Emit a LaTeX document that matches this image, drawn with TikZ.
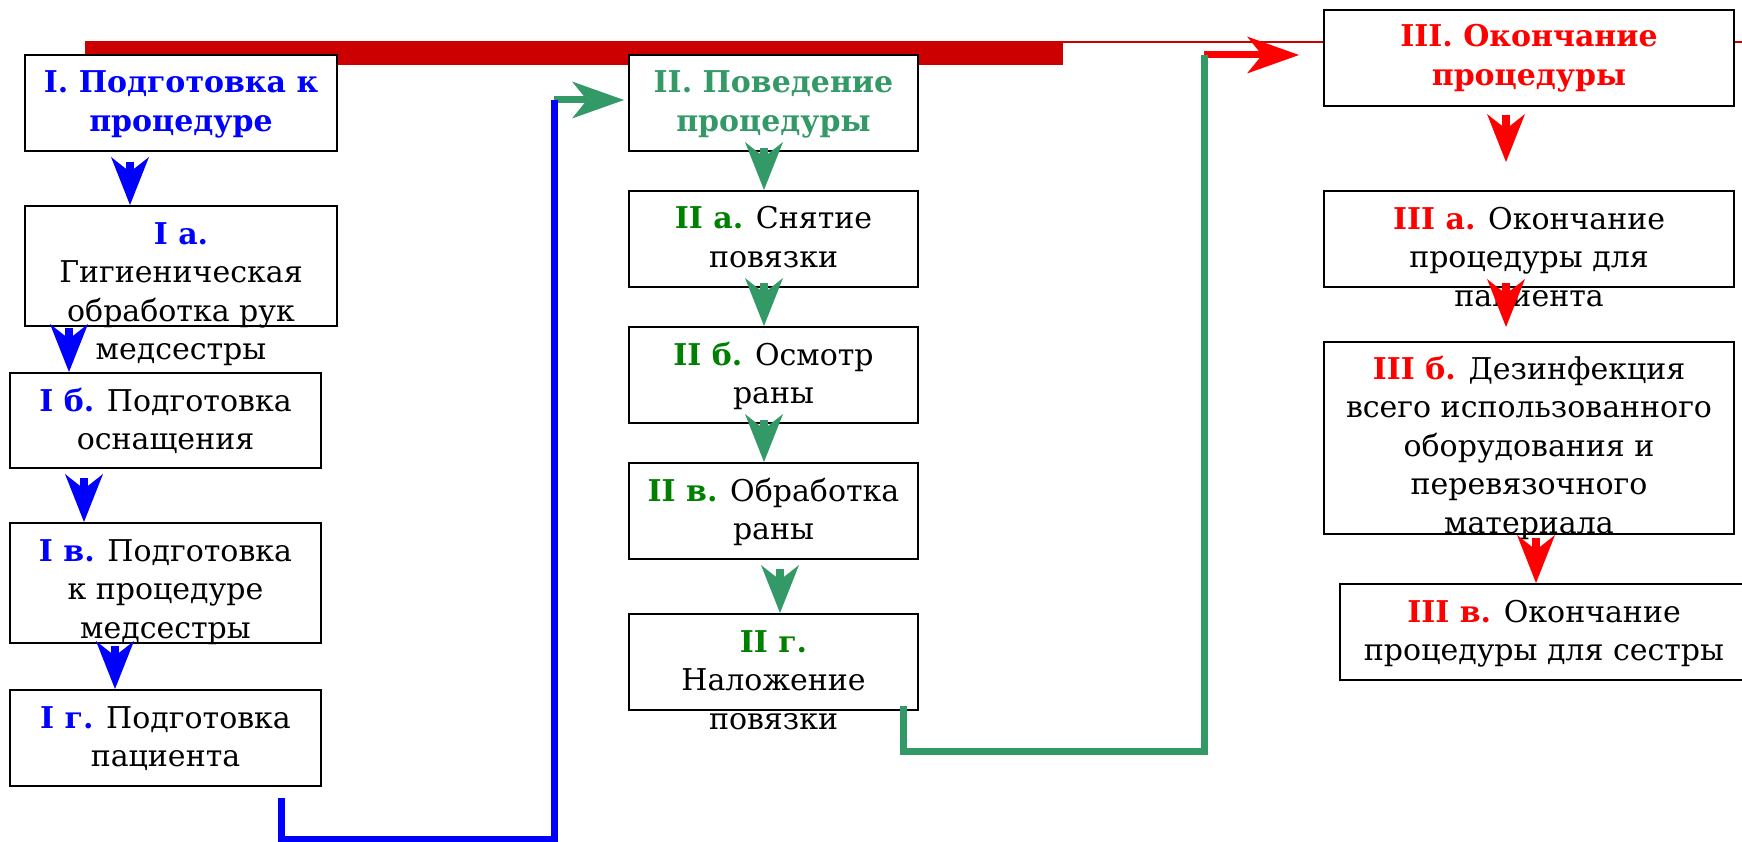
\documentclass[tikz,border=0pt]{standalone}
\usepackage{fontspec}
\setmainfont{DejaVu Serif}
\usetikzlibrary{arrows.meta,calc}
\definecolor{myblue}{RGB}{0,0,255}
\definecolor{sgreen}{RGB}{51,153,102}
\definecolor{dgreen}{RGB}{0,128,0}
\definecolor{myred}{RGB}{255,0,0}
\definecolor{darkred}{RGB}{204,0,0}
\begin{document}
\begin{tikzpicture}[x=1pt,y=-1pt,
  box/.style={draw=black, line width=2pt, fill=white, inner sep=0pt, rectangle},
  txt/.style={align=center, anchor=base, inner sep=0pt, font=\fontsize{30}{38.5}\selectfont},
  btxt/.style={txt, font=\fontsize{30}{38.5}\selectfont\bfseries},
  varr/.style={line width=8pt, -{Stealth[length=48pt,width=38pt,inset=15pt,line width=0pt]}},
  harr/.style={line width=7pt, -{Stealth[length=52pt,width=37pt,inset=15pt,line width=0pt]}},
  conn/.style={line width=7pt, line join=miter}
]
\useasboundingbox (0,0) rectangle (1742,842);

% decorative red bar and thin line
\fill[darkred] (85,41) rectangle (1063,65);
\draw[darkred, line width=1.6pt] (1063,42) -- (1742,42);

% column I boxes
\node[box, minimum width=312pt, minimum height=96pt] (I) at (181,103) {};
\node[box, minimum width=312pt, minimum height=120pt] (Ia) at (181,266) {};
\node[box, minimum width=311pt, minimum height=95pt] (Ib) at (165.5,420.5) {};
\node[box, minimum width=311pt, minimum height=120pt] (Iv) at (165.5,583) {};
\node[box, minimum width=311pt, minimum height=96pt] (Ig) at (165.5,738) {};
% column II boxes
\node[box, minimum width=289pt, minimum height=96pt] (II) at (773.5,103) {};
\node[box, minimum width=289pt, minimum height=96pt] (IIa) at (773.5,239) {};
\node[box, minimum width=289pt, minimum height=96pt] (IIb) at (773.5,375) {};
\node[box, minimum width=289pt, minimum height=96pt] (IIv) at (773.5,511) {};
\node[box, minimum width=289pt, minimum height=96pt] (IIg) at (773.5,662) {};
% column III boxes
\node[box, minimum width=410pt, minimum height=96pt] (III) at (1529,58) {};
\node[box, minimum width=410pt, minimum height=96pt] (IIIa) at (1529,239) {};
\node[box, minimum width=410pt, minimum height=192pt] (IIIb) at (1529,438) {};
\node[box, minimum width=408pt, minimum height=96pt] (IIIv) at (1544,632) {};

% texts (anchor = baseline of last line)
\node[btxt, text=myblue] (It) at ($(I.north)+(0,77.5)$) {I. Подготовка к\\процедуре};
\node[txt] (Iat) at ($(Ia.north)+(0,154.5)$) {\textcolor{myblue}{\bfseries I а.}\\Гигиеническая\\обработка рук\\медсестры};
\node[txt] (Ibt) at ($(Ib.north)+(0,77.5)$) {\textcolor{myblue}{\bfseries I б.} Подготовка\\оснащения};
\node[txt] (Ivt) at ($(Iv.north)+(0,116)$) {\textcolor{myblue}{\bfseries I в.} Подготовка\\к процедуре\\медсестры};
\node[txt] (Igt) at ($(Ig.north)+(0,77.5)$) {\textcolor{myblue}{\bfseries I г.} Подготовка\\пациента};

\node[btxt, text=sgreen] (IIt) at ($(II.north)+(0,77.5)$) {II. Поведение\\процедуры};
\node[txt] (IIat) at ($(IIa.north)+(0,77.5)$) {\textcolor{dgreen}{\bfseries II а.} Снятие\\повязки};
\node[txt] (IIbt) at ($(IIb.north)+(0,77.5)$) {\textcolor{dgreen}{\bfseries II б.} Осмотр\\раны};
\node[txt] (IIvt) at ($(IIv.north)+(0,77.5)$) {\textcolor{dgreen}{\bfseries II в.} Обработка\\раны};
\node[txt] (IIgt) at ($(IIg.north)+(0,116)$) {\textcolor{dgreen}{\bfseries II г.}\\Наложение\\повязки};

\node[btxt, text=myred] (IIIt) at ($(III.north)+(0,76.5)$) {III. Окончание\\процедуры};
\node[txt] (IIIat) at ($(IIIa.north)+(0,116)$) {\textcolor{myred}{\bfseries III а.} Окончание\\процедуры для\\пациента};
\node[txt] (IIIbt) at ($(IIIb.north)+(0,192)$) {\textcolor{myred}{\bfseries III б.} Дезинфекция\\всего использованного\\оборудования и\\перевязочного\\материала};
\node[txt] (IIIvt) at ($(IIIv.north)+(0,77.5)$) {\textcolor{myred}{\bfseries III в.} Окончание\\процедуры для сестры};

% vertical arrows column I
\draw[varr, myblue] ($(I.south west)+(106,10)$) -- ($(Ia.north west)+(106,0)$);
\draw[varr, myblue] ($(Ia.south west)+(45,1)$) -- ($(Ib.north west)+(60,0)$);
\draw[varr, myblue] ($(Ib.south west)+(75,9)$) -- ($(Iv.north west)+(75,0)$);
\draw[varr, myblue] ($(Iv.south west)+(106,2)$) -- ($(Ig.north west)+(106,0)$);
% column II
\draw[varr, sgreen] ($(II.south west)+(136,-4)$) -- ($(IIa.north west)+(136,0)$);
\draw[varr, sgreen] ($(IIa.south west)+(136,-5)$) -- ($(IIb.north west)+(136,0)$);
\draw[varr, sgreen] ($(IIb.south west)+(136,-4)$) -- ($(IIv.north west)+(136,0)$);
\draw[varr, sgreen] ($(IIv.south west)+(152,9)$) -- ($(IIg.north west)+(152,0)$);
% column III
\draw[varr, myred] ($(III.south west)+(183,8)$) -- ($(IIIa.north west)+(183,-28)$);
\draw[varr, myred] ($(IIIa.south west)+(183,-5)$) -- ($(IIIb.north west)+(183,-14)$);
\draw[varr, myred] ($(IIIb.south west)+(213,3)$) -- ($(IIIv.north west)+(197,0)$);

% connector I -> II
\coordinate (bstart) at ($(Ig.south west)+(272,11)$);
\coordinate (bturn) at (554,100);
\draw[harr, sgreen] (bturn) -- ($(II.west)+(-4,-3)$);
\draw[conn, myblue] (bstart) -- ++(0,41) -| (bturn);

% connector II -> III
\coordinate (gstart) at ($(IIg.south east)+(-16,-5)$);
\coordinate (gturn) at (1204,55);
\draw[harr, myred] (gturn) -- ($(III.west)+(-24,-3)$);
\draw[conn, sgreen] (gstart) -- ++(0,45) -| (gturn);
\end{tikzpicture}
\end{document}
